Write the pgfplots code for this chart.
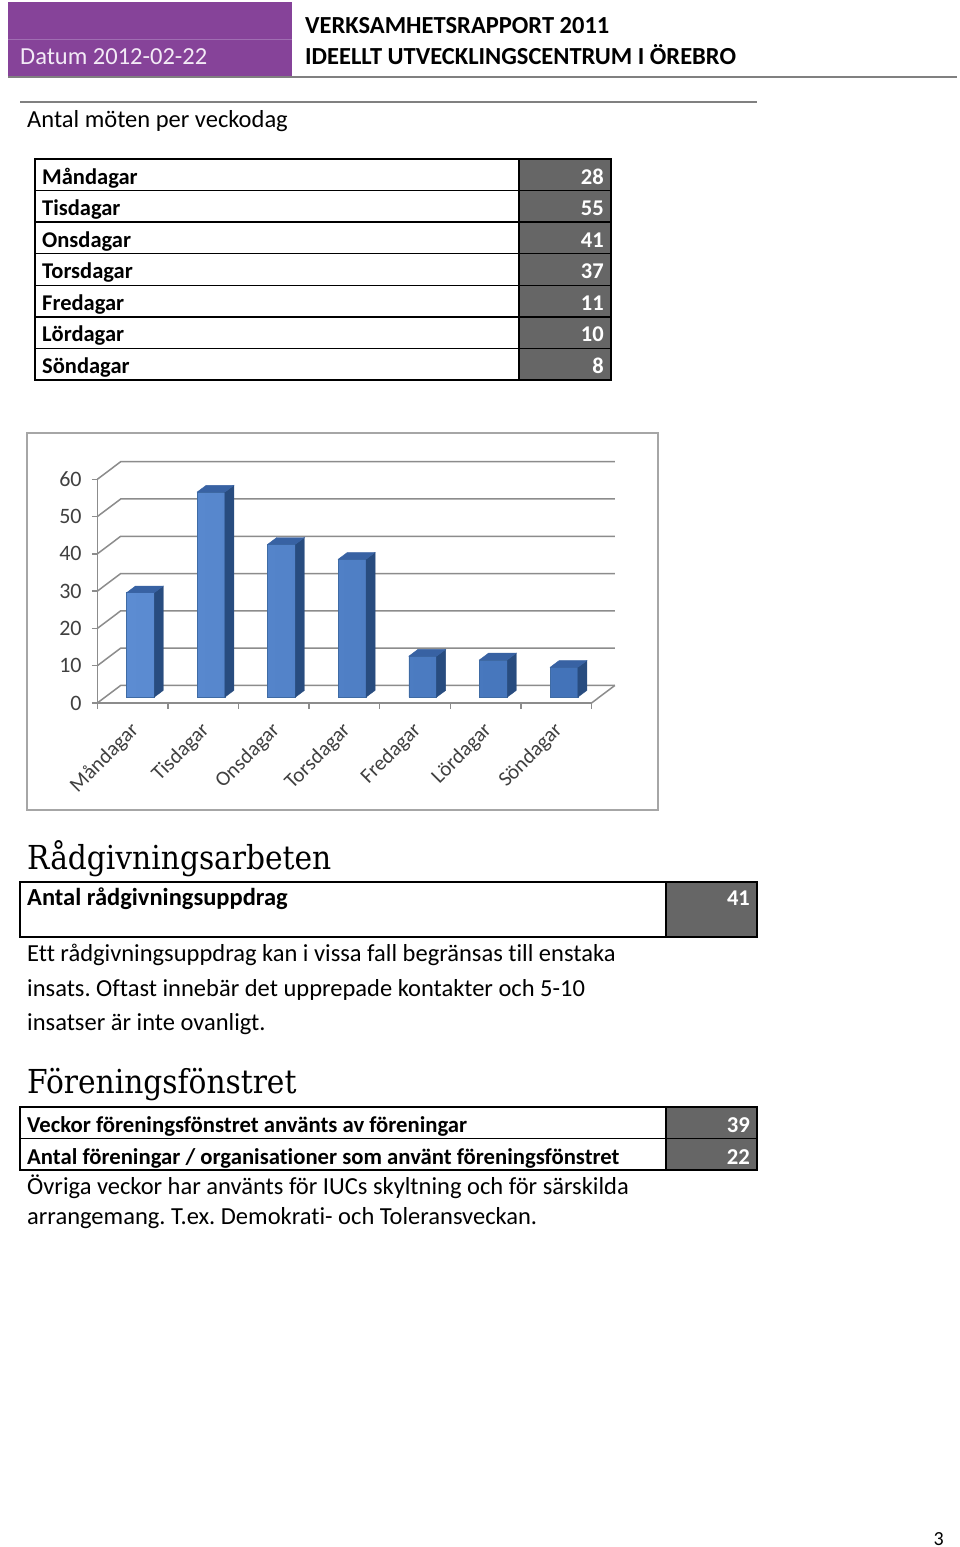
\documentclass[border=0pt]{standalone}
\usepackage{fontspec}
\setmainfont{Carlito}[Ligatures=NoCommon]
\newfontfamily\headfont{DejaVu Serif Condensed}
\usepackage{pgfplots}
\usepackage{pgfplotstable}
\pgfplotsset{compat=1.18}
\definecolor{purp}{RGB}{134,67,153}
\definecolor{purpline}{RGB}{160,110,178}
\definecolor{datumcol}{RGB}{243,234,246}
\definecolor{rulegray}{RGB}{128,128,128}
\definecolor{cellgray}{RGB}{102,102,102}
\definecolor{framegray}{RGB}{166,166,166}
\definecolor{gridgray}{RGB}{140,140,140}
\definecolor{labelgray}{RGB}{64,64,64}
\definecolor{barfront}{RGB}{74,126,193}
\definecolor{barleft}{RGB}{92,140,210}
\definecolor{barright}{RGB}{66,114,184}
\definecolor{bartop}{RGB}{56,98,163}
\definecolor{barside}{RGB}{40,76,127}
\pgfdeclareplotmark{nothing}{}
\newcommand\fs[1]{\fontsize{#1}{#1}\selectfont}
\frenchspacing

\pgfplotstableread{
x v
0 28
1 55
2 41
3 37
4 11
5 10
6 8
}\daydata

\begin{document}
\begin{tikzpicture}
\begin{scope}[x=1pt,y=-1pt]
\useasboundingbox (0,0) rectangle (960,1547);
\fill[white] (0,0) rectangle (960,1547);
% header
\fill[purp] (8,2) rectangle (292,77);
\draw[purpline, line width=0.8pt] (8,39) -- (292,39);
\draw[rulegray, line width=2pt] (8,77) -- (957,77);
\node[anchor=base west, inner sep=0pt, text=datumcol, font=\fs{24.5}] at (20,64) {Datum 2012-02-22};
\node[anchor=base west, inner sep=0pt, font=\fs{24.5}\bfseries] at (305,33) {VERKSAMHETSRAPPORT 2011};
\node[anchor=base west, inner sep=0pt, font=\fs{24.5}\bfseries] at (305,64) {IDEELLT UTVECKLINGSCENTRUM I ÖREBRO};
% intro
\draw[rulegray, line width=2pt] (20,102) -- (757,102);
\node[anchor=base west, inner sep=0pt, font=\fs{24.5}] at (27,127) {Antal möten per veckodag};
% table 1
\foreach \lab/\val [count=\i from 0] in {Måndagar/28,Tisdagar/55,Onsdagar/41,Torsdagar/37,Fredagar/11,Lördagar/10,Söndagar/8} {
  \pgfmathsetmacro\yt{159+31.57*\i}
  \fill[cellgray] (519,\yt) rectangle (611,\yt+31.57);
  \draw[black, line width=1.3pt] (35,\yt) rectangle (611,\yt+31.57);
  \node[anchor=base west, inner sep=0pt, font=\fs{22.5}\bfseries] at (42,\yt+25) {\lab};
  \node[anchor=base east, inner sep=0pt, text=white, font=\fs{22.5}\bfseries] at (604,\yt+25) {\val};
}
\draw[black, line width=1.3pt] (519,159) -- (519,380);
% chart frame
\draw[framegray, line width=2.5pt] (27,433) rectangle (658,810);
% Rådgivning
\node[anchor=base west, inner sep=0pt, font=\headfont\fs{33}] at (27,869) {Rådgivningsarbeten};
\fill[cellgray] (666,882) rectangle (757,937);
\draw[black, line width=1.3pt] (20,882) rectangle (757,937);
\draw[black, line width=1.3pt] (666,882) -- (666,937);
\node[anchor=base west, inner sep=0pt, font=\fs{24.5}\bfseries] at (27,905) {Antal rådgivningsuppdrag};
\node[anchor=base east, inner sep=0pt, text=white, font=\fs{22.5}\bfseries] at (750,905) {41};
\node[anchor=base west, inner sep=0pt, font=\fs{24.5}] at (27,961) {Ett rådgivningsuppdrag kan i vissa fall begränsas till enstaka};
\node[anchor=base west, inner sep=0pt, font=\fs{24.5}] at (27,996) {insats. Oftast innebär det upprepade kontakter och 5-10};
\node[anchor=base west, inner sep=0pt, font=\fs{24.5}] at (27,1030) {insatser är inte ovanligt.};
% Föreningsfönstret
\node[anchor=base west, inner sep=0pt, font=\headfont\fs{33}] at (27,1093) {Föreningsfönstret};
\fill[cellgray] (666,1107) rectangle (757,1170);
\draw[black, line width=1.3pt] (20,1107) rectangle (757,1170);
\draw[black, line width=1.3pt] (20,1138.5) -- (757,1138.5);
\draw[black, line width=2.2pt] (20,1107) -- (757,1107);
\draw[black, line width=1.3pt] (666,1107) -- (666,1170);
\node[anchor=base west, inner sep=0pt, font=\fs{22.7}\bfseries] at (27,1132) {Veckor föreningsfönstret använts av föreningar};
\node[anchor=base east, inner sep=0pt, text=white, font=\fs{22.7}\bfseries] at (750,1132) {39};
\node[anchor=base west, inner sep=0pt, font=\fs{22.7}\bfseries] at (27,1164) {Antal föreningar / organisationer som använt föreningsfönstret};
\node[anchor=base east, inner sep=0pt, text=white, font=\fs{22.7}\bfseries] at (750,1164) {22};
\node[anchor=base west, inner sep=0pt, font=\fs{24.5}] at (27,1194) {Övriga veckor har använts för IUCs skyltning och för särskilda};
\node[anchor=base west, inner sep=0pt, font=\fs{24.5}] at (27,1224) {arrangemang. T.ex. Demokrati- och Toleransveckan.};
\node[anchor=base east, inner sep=0pt, font=\fs{20}] at (944,1545) {3};
\end{scope}

% front plane axis (walls, ticks, labels)
\begin{axis}[
  at={(97.3pt,-703pt)}, anchor=south west,
  scale only axis, width=494.2pt, height=223.7pt,
  xmin=-0.5, xmax=6.5, ymin=0, ymax=60,
  axis x line*=bottom, axis y line*=left,
  axis line style={draw=gridgray, line width=1.5pt, -},
  every tick/.style={draw=gridgray, line width=1.5pt},
  tick align=outside, major tick length=5.5pt, minor tick length=5.5pt,
  ytick={0,10,...,60},
  xtick={0,...,6},
  xticklabels={Måndagar,Tisdagar,Onsdagar,Torsdagar,Fredagar,Lördagar,Söndagar},
  major x tick style={draw=none},
  minor xtick={-0.5,0.5,...,6.5},
  tick label style={text=labelgray},
  yticklabel style={font=\fs{22}, anchor=east, inner sep=0pt, xshift=-10pt},
  xticklabel style={font=\fs{21}, yshift=-19pt, xshift=3pt, rotate=45, anchor=east, inner sep=0pt},
  /pgf/number format/assume math mode=true,
  clip=false,
]
\pgfplotsinvokeforeach{0,10,20,30,40,50,60}{
  \draw[gridgray, line width=1.5pt] (axis cs:-0.5,#1) -- ([shift={(23.4pt,17.6pt)}]axis cs:-0.5,#1) -- ([shift={(23.4pt,17.6pt)}]axis cs:6.5,#1);
}
\draw[gridgray, line width=1.5pt] (axis cs:6.5,0) -- ([shift={(23.4pt,17.6pt)}]axis cs:6.5,0);
\end{axis}

% bar plane axis
\begin{axis}[
  at={(105.1pt,-697.1pt)}, anchor=south west,
  scale only axis, width=494.2pt, height=223.7pt,
  xmin=-0.5, xmax=6.5, ymin=0, ymax=60,
  hide axis, clip=false,
]
\addplot[ybar, bar width=27.7pt, left color=barleft, right color=barright, draw=barfront!85!black, line width=0.6pt] table[x=x,y=v]{\daydata};
\addplot[scatter, only marks, mark=nothing,
  visualization depends on={\thisrow{v} \as \barv},
  scatter/@pre marker code/.code={%
    \pgfmathsetlengthmacro\hbar{\barv*3.7283pt}%
    \pgfmathsetlengthmacro\hbarb{6.7pt-\barv*3.7283pt}%
    \fill[barside] (13.85pt,0pt) -- (22.85pt,6.7pt) -- (22.85pt,\hbarb) -- (13.85pt,-\hbar) -- cycle;
    \fill[bartop] (-13.85pt,0pt) -- (13.85pt,0pt) -- (22.85pt,6.7pt) -- (-4.85pt,6.7pt) -- cycle;
  },
  scatter/@post marker code/.code={},
] table[x=x,y=v]{\daydata};
\end{axis}
\end{tikzpicture}
\end{document}
